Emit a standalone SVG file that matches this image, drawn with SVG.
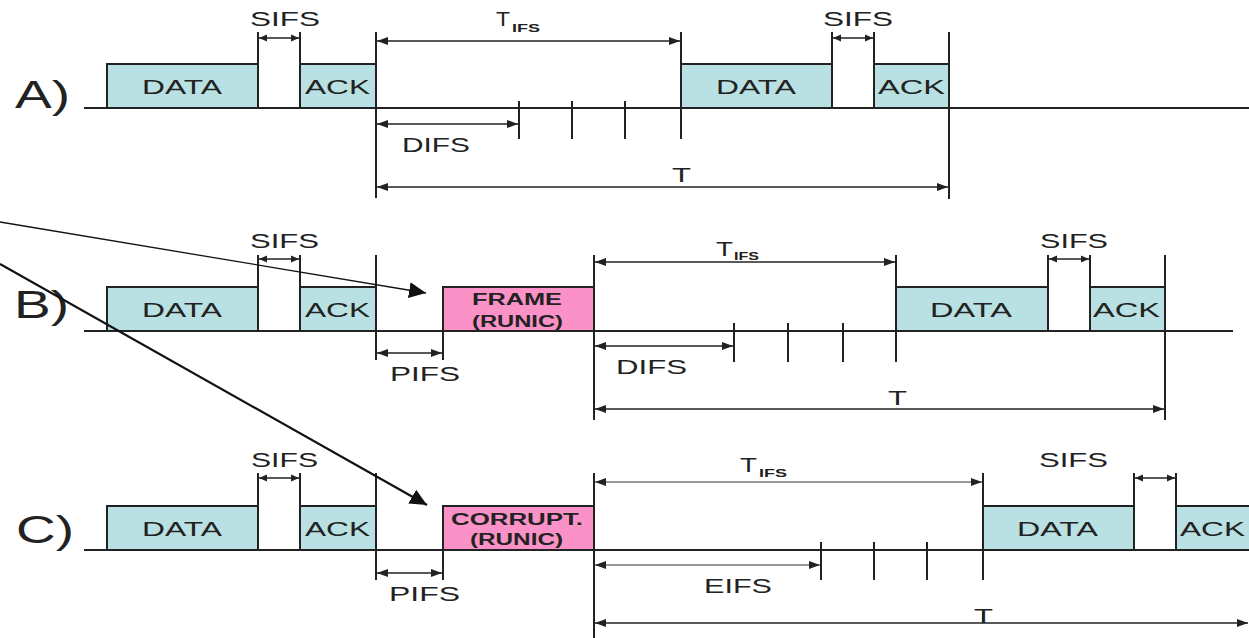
<svg xmlns="http://www.w3.org/2000/svg" width="1249" height="638" viewBox="0 0 1249 638">
<style>
text{font-family:"Liberation Sans",Arial,sans-serif;fill:#222}
.lbl{font-size:38px}
.t{font-size:21px}
.b{font-size:16px;font-weight:bold}
.sub{font-size:10px;font-weight:bold}
.box{stroke:#222;stroke-width:2}
.cy{fill:#b9e1e3}
.pk{fill:#fa92c8}
.ln{stroke:#222;stroke-width:2;fill:none}
.dim{stroke:#222;stroke-width:1.6;fill:none;marker-start:url(#ah);marker-end:url(#ah)}
.dims{stroke:#222;stroke-width:1.6;fill:none;marker-start:url(#ahs);marker-end:url(#ahs)}
.dimg{stroke:#777;stroke-width:1.4;fill:none;marker-start:url(#ah);marker-end:url(#ah)}
</style>
<defs>
<marker id="ah" markerUnits="userSpaceOnUse" markerWidth="12" markerHeight="10" refX="11" refY="5" orient="auto-start-reverse"><path d="M0,1 L11,5 L0,9 z" fill="#222"/></marker>
<marker id="ahs" markerUnits="userSpaceOnUse" markerWidth="9" markerHeight="8" refX="8" refY="4" orient="auto-start-reverse"><path d="M0,0.5 L8,4 L0,7.5 z" fill="#222"/></marker>
<marker id="pt" markerUnits="userSpaceOnUse" markerWidth="18" markerHeight="16" refX="17" refY="8" orient="auto"><path d="M0,0 L17,8 L0,16 z" fill="#111"/></marker>
</defs>

<!-- Row A -->
<g id="rowA">
<text class="lbl" x="15" y="108" textLength="55" lengthAdjust="spacingAndGlyphs">A)</text>
<line class="ln" x1="84" y1="108" x2="1249" y2="108"/>
</g>
<g id="A-data1"><rect class="box cy" x="107" y="64" width="151" height="44"/><text class="t" x="142" y="94" textLength="80" lengthAdjust="spacingAndGlyphs">DATA</text></g>
<g id="A-ack1"><rect class="box cy" x="300" y="64" width="76" height="44"/><text class="t" x="305" y="94" textLength="65" lengthAdjust="spacingAndGlyphs">ACK</text></g>
<g id="A-data2"><rect class="box cy" x="681" y="64" width="151" height="44"/><text class="t" x="716" y="94" textLength="80" lengthAdjust="spacingAndGlyphs">DATA</text></g>
<g id="A-ack2"><rect class="box cy" x="874" y="64" width="75" height="44"/><text class="t" x="878" y="94" textLength="67" lengthAdjust="spacingAndGlyphs">ACK</text></g>
<g id="A-marks">
<line class="ln" x1="258" y1="32" x2="258" y2="108"/>
<line class="ln" x1="300" y1="32" x2="300" y2="108"/>
<line class="ln" x1="376" y1="32" x2="376" y2="198"/>
<line class="ln" x1="519" y1="101" x2="519" y2="139"/>
<line class="ln" x1="572" y1="101" x2="572" y2="139"/>
<line class="ln" x1="625" y1="101" x2="625" y2="139"/>
<line class="ln" x1="681" y1="32" x2="681" y2="139"/>
<line class="ln" x1="832" y1="32" x2="832" y2="108"/>
<line class="ln" x1="874" y1="32" x2="874" y2="108"/>
<line class="ln" x1="949" y1="32" x2="949" y2="199"/>
<text class="t" x="250" y="26" textLength="70" lengthAdjust="spacingAndGlyphs">SIFS</text>
<text class="t" x="823" y="26" textLength="70" lengthAdjust="spacingAndGlyphs">SIFS</text>
<text class="t" x="496" y="26" font-size="22" textLength="14" lengthAdjust="spacingAndGlyphs">T</text>
<text class="sub" x="512" y="32" textLength="28" lengthAdjust="spacingAndGlyphs">IFS</text>
<text class="t" x="402" y="152" textLength="68" lengthAdjust="spacingAndGlyphs">DIFS</text>
<text class="t" x="672" y="182" font-size="22" textLength="19" lengthAdjust="spacingAndGlyphs">T</text>
</g>

<!-- Row B -->
<g id="rowB">
<text class="lbl" x="14" y="318" textLength="55" lengthAdjust="spacingAndGlyphs">B)</text>
<line class="ln" x1="84" y1="331" x2="1233" y2="331"/>
</g>
<g id="B-data1"><rect class="box cy" x="107" y="287" width="151" height="44"/><text class="t" x="142" y="317" textLength="80" lengthAdjust="spacingAndGlyphs">DATA</text></g>
<g id="B-ack1"><rect class="box cy" x="300" y="287" width="76" height="44"/><text class="t" x="305" y="317" textLength="65" lengthAdjust="spacingAndGlyphs">ACK</text></g>
<g id="B-frame"><rect class="box pk" x="443" y="287" width="151" height="44"/><text class="b" x="472" y="305" textLength="90" lengthAdjust="spacingAndGlyphs">FRAME</text><text class="b" x="472" y="327" textLength="91" lengthAdjust="spacingAndGlyphs">(RUNIC)</text></g>
<g id="B-data2"><rect class="box cy" x="896" y="287" width="152" height="44"/><text class="t" x="930" y="317" textLength="82" lengthAdjust="spacingAndGlyphs">DATA</text></g>
<g id="B-ack2"><rect class="box cy" x="1090" y="287" width="75" height="44"/><text class="t" x="1093" y="317" textLength="67" lengthAdjust="spacingAndGlyphs">ACK</text></g>
<g id="B-marks">
<line class="ln" x1="258" y1="255" x2="258" y2="331"/>
<line class="ln" x1="300" y1="255" x2="300" y2="331"/>
<line class="ln" x1="376" y1="255" x2="376" y2="360"/>
<line class="ln" x1="443" y1="287" x2="443" y2="360"/>
<line class="ln" x1="594" y1="255" x2="594" y2="420"/>
<line class="ln" x1="734" y1="323" x2="734" y2="362"/>
<line class="ln" x1="788" y1="323" x2="788" y2="362"/>
<line class="ln" x1="843" y1="323" x2="843" y2="362"/>
<line class="ln" x1="896" y1="255" x2="896" y2="362"/>
<line class="ln" x1="1048" y1="255" x2="1048" y2="331"/>
<line class="ln" x1="1090" y1="255" x2="1090" y2="331"/>
<line class="ln" x1="1165" y1="255" x2="1165" y2="420"/>
<text class="t" x="250" y="248" textLength="69" lengthAdjust="spacingAndGlyphs">SIFS</text>
<text class="t" x="1040" y="248" textLength="68" lengthAdjust="spacingAndGlyphs">SIFS</text>
<text class="t" x="716" y="256" textLength="17" lengthAdjust="spacingAndGlyphs">T</text>
<text class="sub" x="734" y="260" textLength="25" lengthAdjust="spacingAndGlyphs">IFS</text>
<text class="t" x="390" y="381" textLength="70" lengthAdjust="spacingAndGlyphs">PIFS</text>
<text class="t" x="616" y="374" textLength="71" lengthAdjust="spacingAndGlyphs">DIFS</text>
<text class="t" x="888" y="405" font-size="22" textLength="19" lengthAdjust="spacingAndGlyphs">T</text>
</g>

<!-- Row C -->
<g id="rowC">
<text class="lbl" x="16" y="543" textLength="58" lengthAdjust="spacingAndGlyphs">C)</text>
<line class="ln" x1="84" y1="550" x2="1249" y2="550"/>
</g>
<g id="C-data1"><rect class="box cy" x="107" y="506" width="151" height="44"/><text class="t" x="142" y="536" textLength="80" lengthAdjust="spacingAndGlyphs">DATA</text></g>
<g id="C-ack1"><rect class="box cy" x="300" y="506" width="76" height="44"/><text class="t" x="305" y="536" textLength="65" lengthAdjust="spacingAndGlyphs">ACK</text></g>
<g id="C-corrupt"><rect class="box pk" x="443" y="506" width="151" height="44"/><text class="b" x="451" y="525" textLength="132" lengthAdjust="spacingAndGlyphs">CORRUPT.</text><text class="b" x="470" y="545" textLength="93" lengthAdjust="spacingAndGlyphs">(RUNIC)</text></g>
<g id="C-data2"><rect class="box cy" x="983" y="506" width="151" height="44"/><text class="t" x="1017" y="536" textLength="81" lengthAdjust="spacingAndGlyphs">DATA</text></g>
<g id="C-ack2"><rect class="box cy" x="1176" y="506" width="80" height="44"/><text class="t" x="1180" y="536" textLength="65" lengthAdjust="spacingAndGlyphs">ACK</text></g>
<g id="C-marks">
<line class="ln" x1="258" y1="473" x2="258" y2="550"/>
<line class="ln" x1="300" y1="473" x2="300" y2="550"/>
<line class="ln" x1="376" y1="473" x2="376" y2="580"/>
<line class="ln" x1="443" y1="506" x2="443" y2="580"/>
<line class="ln" x1="594" y1="473" x2="594" y2="638"/>
<line class="ln" x1="821" y1="542" x2="821" y2="580"/>
<line class="ln" x1="874" y1="542" x2="874" y2="580"/>
<line class="ln" x1="927" y1="542" x2="927" y2="580"/>
<line class="ln" x1="983" y1="473" x2="983" y2="580"/>
<line class="ln" x1="1134" y1="473" x2="1134" y2="550"/>
<line class="ln" x1="1176" y1="473" x2="1176" y2="550"/>
<line class="ln" x1="983" y1="612" x2="983" y2="623"/>
<text class="t" x="251" y="467" textLength="67" lengthAdjust="spacingAndGlyphs">SIFS</text>
<text class="t" x="1039" y="467" textLength="69" lengthAdjust="spacingAndGlyphs">SIFS</text>
<text class="t" x="740" y="472" textLength="17" lengthAdjust="spacingAndGlyphs">T</text>
<text class="sub" x="759" y="477" textLength="28" lengthAdjust="spacingAndGlyphs">IFS</text>
<text class="t" x="389" y="601" textLength="71" lengthAdjust="spacingAndGlyphs">PIFS</text>
<text class="t" x="704" y="593" textLength="68" lengthAdjust="spacingAndGlyphs">EIFS</text>
<text class="t" x="974" y="623" font-size="22" textLength="19" lengthAdjust="spacingAndGlyphs">T</text>
</g>

<g id="connectors">
<line class="dims" x1="259" y1="38" x2="299" y2="38"/>
<line class="dims" x1="833" y1="38" x2="873" y2="38"/>
<line class="dim" x1="377" y1="41" x2="680" y2="41"/>
<line class="dim" x1="377" y1="124" x2="518" y2="124"/>
<line class="dim" x1="377" y1="187" x2="948" y2="187"/>

<line class="dims" x1="259" y1="259" x2="299" y2="259"/>
<line class="dims" x1="1049" y1="259" x2="1089" y2="259"/>
<line class="dim" x1="377" y1="353" x2="442" y2="353"/>
<line class="dim" x1="595" y1="262" x2="895" y2="262"/>
<line class="dim" x1="595" y1="346" x2="733" y2="346"/>
<line class="dim" x1="595" y1="409" x2="1164" y2="409"/>

<line class="dims" x1="259" y1="478" x2="299" y2="478"/>
<line class="dims" x1="1135" y1="478" x2="1175" y2="478"/>
<line class="dim" x1="377" y1="573" x2="442" y2="573"/>
<line class="dimg" x1="595" y1="482" x2="982" y2="482"/>
<line class="dimg" x1="595" y1="565" x2="820" y2="565"/>
<line class="dim" x1="595" y1="623" x2="1248" y2="623"/>

<line x1="0" y1="222" x2="426" y2="293" stroke="#111" stroke-width="1.3" marker-end="url(#pt)"/>
<line x1="0" y1="264" x2="427" y2="505" stroke="#111" stroke-width="2.2" marker-end="url(#pt)"/>
</g>
</svg>
